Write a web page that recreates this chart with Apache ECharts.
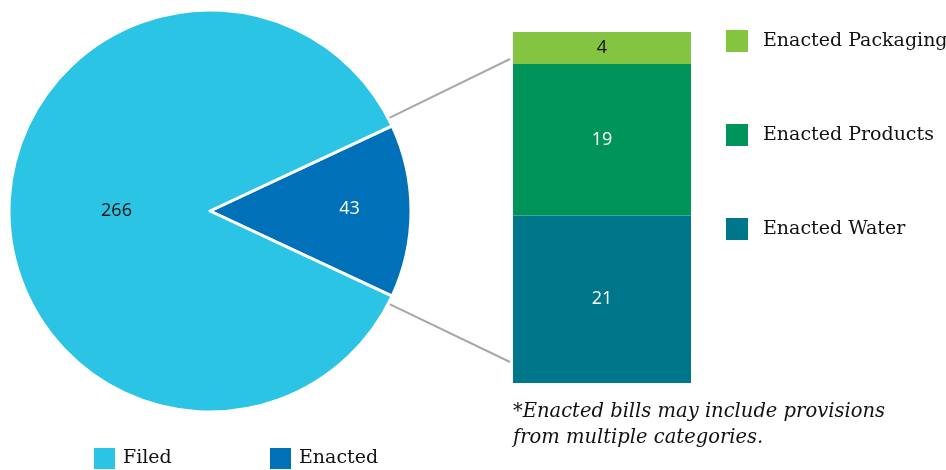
<!DOCTYPE html>
<html>
<head>
<meta charset="utf-8">
<script src="https://cdn.jsdelivr.net/npm/echarts@6/dist/echarts.min.js"></script>
<style>
  html, body { margin: 0; padding: 0; background: #fff; }
  #chart { width: 946px; height: 470px; }
</style>
</head>
<body>
<div id="chart"></div>
<script>
// Bill counts: all filed vs. enacted
const pieNames = ['Enacted', 'Filed'];
const pieValues = [43, 266];
const pieColors = ['#0070B8', '#2CC4E5'];

// Breakdown of enacted bills by category (bottom to top)
const barNames = ['Enacted Water', 'Enacted Products', 'Enacted Packaging'];
const barValues = [21, 19, 4];
const barColors = ['#00768A', '#00945A', '#84C441'];
const barLabelColors = ['#ffffff', '#ffffff', '#111111'];

const footnote = '*Enacted bills may include provisions\nfrom multiple categories.';

const serif = '"DejaVu Serif", serif';
const sans = '"Open Sans", "DejaVu Sans", sans-serif';

// Pie geometry
const cx = 210, cy = 211, R = 201;
const total = pieValues.reduce((a, b) => a + b, 0);
const enactedSpan = pieValues[0] / total * 360;
const startAngle = enactedSpan / 2;

// Bar grid
const gridLeft = 513, gridRight = 255, gridTop = 32, gridBottom = 87;

const chart = echarts.init(document.getElementById('chart'));

const barSeries = barNames.map((name, i) => ({
  name: name,
  type: 'bar',
  stack: 'enacted',
  barWidth: '100%',
  data: [barValues[i]],
  itemStyle: { color: barColors[i] },
  label: {
    show: true,
    position: 'inside',
    color: barLabelColors[i],
    fontFamily: sans,
    fontSize: 18
  }
}));

// Connector lines from the enacted slice edges to the bar
const a = startAngle * Math.PI / 180;
const edgeTop = [cx + R * Math.cos(a) - 15, cy - R * Math.sin(a) - 2];
const edgeBot = [cx + R * Math.cos(a) - 15, cy + R * Math.sin(a) + 2];

const legendText = { fontFamily: serif, fontSize: 19, color: '#111' };

chart.setOption({
  animation: false,
  backgroundColor: '#ffffff',
  grid: { left: gridLeft, right: gridRight, top: gridTop, bottom: gridBottom },
  xAxis: { type: 'category', data: ['Enacted'], show: false },
  yAxis: { type: 'value', min: 0, max: barValues.reduce((s, v) => s + v, 0), show: false },
  legend: [
    {
      data: [barNames[2], barNames[1], barNames[0]],
      orient: 'vertical',
      left: 726,
      top: 30,
      padding: 0,
      itemWidth: 22,
      itemHeight: 22,
      itemGap: 72,
      icon: 'rect',
      selectedMode: false,
      textStyle: Object.assign({ padding: [0, 0, 0, 10] }, legendText)
    },
    {
      data: ['Filed'],
      left: 92,
      top: 446,
      padding: 0,
      itemWidth: 23,
      itemHeight: 23,
      icon: 'rect',
      selectedMode: false,
      textStyle: Object.assign({ padding: [0, 0, 0, 2] }, legendText)
    },
    {
      data: ['Enacted'],
      left: 268,
      top: 446,
      padding: 0,
      itemWidth: 23,
      itemHeight: 23,
      icon: 'rect',
      selectedMode: false,
      textStyle: Object.assign({ padding: [0, 0, 0, 2] }, legendText)
    }
  ],
  series: [
    {
      name: 'Bills',
      type: 'pie',
      center: [cx, cy],
      radius: [0, R],
      startAngle: startAngle,
      clockwise: true,
      data: pieNames.map((n, i) => ({
        name: n,
        value: pieValues[i],
        itemStyle: { color: pieColors[i] },
        label: i === 0
          ? { color: '#ffffff', offset: [36, -2] }
          : { color: '#111111', offset: [10, 0] }
      })),
      itemStyle: { borderColor: '#ffffff', borderWidth: 3 },
      label: {
        show: true,
        position: 'inner',
        formatter: '{c}',
        fontFamily: sans,
        fontSize: 18
      },
      labelLine: { show: false },
      emphasis: { disabled: true }
    }
  ].concat(barSeries),
  graphic: [
    {
      type: 'line',
      shape: { x1: edgeTop[0], y1: edgeTop[1], x2: gridLeft - 3, y2: 59 },
      style: { stroke: '#A8A8A8', lineWidth: 2 }
    },
    {
      type: 'line',
      shape: { x1: edgeBot[0], y1: edgeBot[1], x2: gridLeft - 3, y2: 362 },
      style: { stroke: '#A8A8A8', lineWidth: 2 }
    },
    {
      type: 'text',
      left: 513,
      top: 399,
      style: {
        text: footnote,
        font: 'italic 19.5px "DejaVu Serif", serif',
        fill: '#111',
        lineHeight: 26
      }
    }
  ]
});
</script>
</body>
</html>
